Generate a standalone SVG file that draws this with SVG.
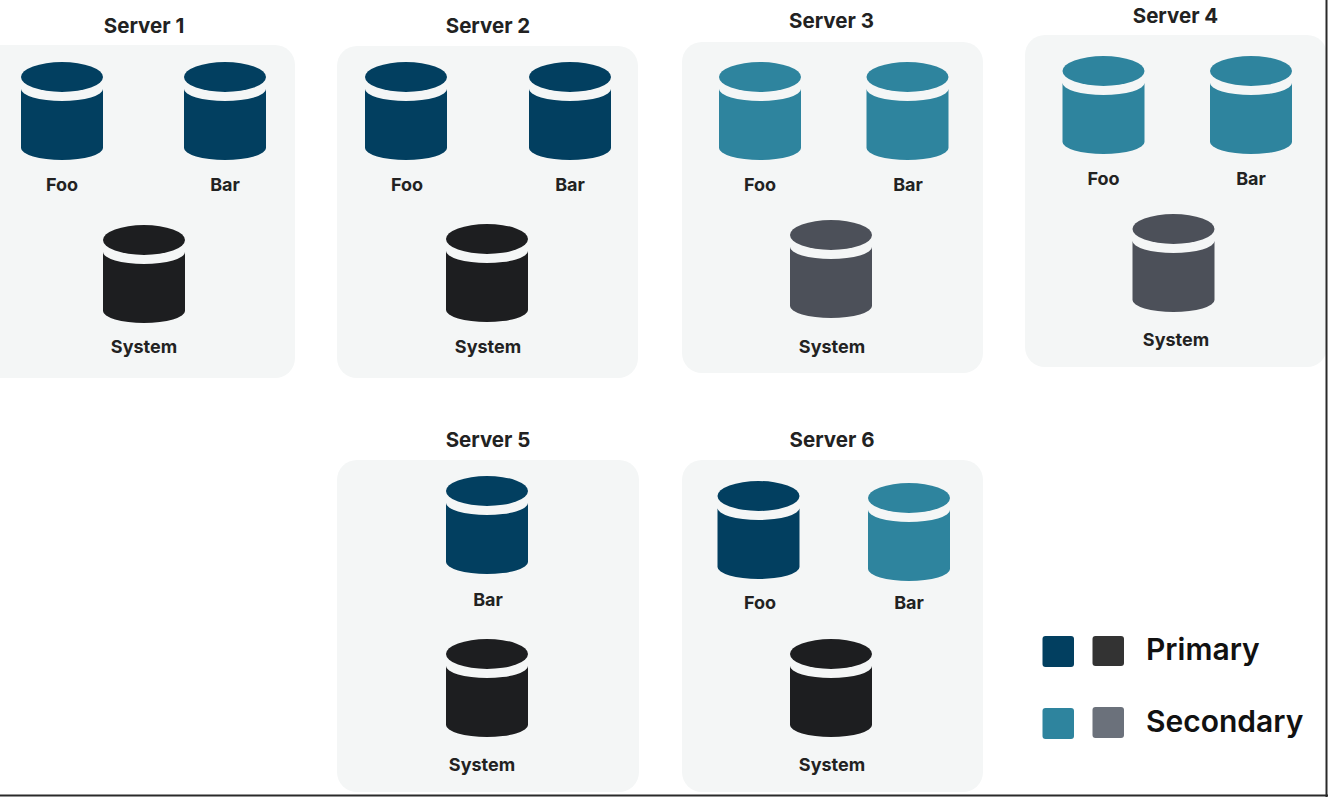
<svg xmlns="http://www.w3.org/2000/svg" xmlns:xlink="http://www.w3.org/1999/xlink" width="1328" height="797" viewBox="0 0 1328 797">
<style>
.box{fill:#f4f6f6}
.title{font-family:Inter,"Liberation Sans",sans-serif;font-weight:700;font-size:20.5px;fill:#222;text-anchor:middle}
.lbl{font-family:Inter,"Liberation Sans",sans-serif;font-weight:700;font-size:18px;fill:#222;text-anchor:middle}
.leg{font-family:Inter,"Liberation Sans",sans-serif;font-weight:600;font-size:30px;fill:#111}
.p{fill:#023f60}
.s{fill:#2e849e}
.ps{fill:#1d1e20}
.ss{fill:#4c5059}
</style>
<defs>
<g id="cyl">
<ellipse cx="0" cy="15" rx="41" ry="15"/>
<path d="M-41,27 A41,12 0 0 0 41,27 V86 A41,12 0 0 1 -41,86 Z"/>
</g>
</defs>
<rect width="1328" height="797" fill="#ffffff"/>

<g id="server1">
<text class="title" x="144" y="33">Server 1</text>
<rect class="box" x="-20" y="45" width="315" height="333" rx="20"/>
<use href="#cyl" xlink:href="#cyl" class="p" x="62" y="62"/>
<text class="lbl" x="62" y="191">Foo</text>
<use href="#cyl" xlink:href="#cyl" class="p" x="225" y="62"/>
<text class="lbl" x="225" y="191">Bar</text>
<use href="#cyl" xlink:href="#cyl" class="ps" x="144" y="225"/>
<text class="lbl" x="144" y="353">System</text>
</g>

<g id="server2">
<text class="title" x="488" y="33">Server 2</text>
<rect class="box" x="337" y="46" width="301" height="332" rx="20"/>
<use href="#cyl" xlink:href="#cyl" class="p" x="406" y="62"/>
<text class="lbl" x="407" y="191">Foo</text>
<use href="#cyl" xlink:href="#cyl" class="p" x="570" y="62"/>
<text class="lbl" x="570" y="191">Bar</text>
<use href="#cyl" xlink:href="#cyl" class="ps" x="487" y="224"/>
<text class="lbl" x="488" y="353">System</text>
</g>

<g id="server3">
<text class="title" x="831.5" y="28">Server 3</text>
<rect class="box" x="682" y="42" width="301" height="331" rx="20"/>
<use href="#cyl" xlink:href="#cyl" class="s" x="760" y="62"/>
<text class="lbl" x="760" y="191">Foo</text>
<use href="#cyl" xlink:href="#cyl" class="s" x="907.5" y="62"/>
<text class="lbl" x="908" y="191">Bar</text>
<use href="#cyl" xlink:href="#cyl" class="ss" x="831" y="220"/>
<text class="lbl" x="832" y="353">System</text>
</g>

<g id="server4">
<text class="title" x="1175.5" y="23">Server 4</text>
<rect class="box" x="1025" y="35" width="302" height="332" rx="20"/>
<use href="#cyl" xlink:href="#cyl" class="s" x="1103.5" y="56"/>
<text class="lbl" x="1103.5" y="185">Foo</text>
<use href="#cyl" xlink:href="#cyl" class="s" x="1251" y="56"/>
<text class="lbl" x="1251" y="185">Bar</text>
<use href="#cyl" xlink:href="#cyl" class="ss" x="1173.5" y="214"/>
<text class="lbl" x="1176" y="346">System</text>
</g>

<g id="server5">
<text class="title" x="488" y="447">Server 5</text>
<rect class="box" x="337" y="460" width="302" height="332" rx="20"/>
<use href="#cyl" xlink:href="#cyl" class="p" x="487" y="476"/>
<text class="lbl" x="488" y="606">Bar</text>
<use href="#cyl" xlink:href="#cyl" class="ps" x="487" y="639"/>
<text class="lbl" x="482" y="771">System</text>
</g>

<g id="server6">
<text class="title" x="832" y="447">Server 6</text>
<rect class="box" x="682" y="460" width="301" height="332" rx="20"/>
<use href="#cyl" xlink:href="#cyl" class="p" x="758.5" y="481"/>
<text class="lbl" x="760" y="609">Foo</text>
<use href="#cyl" xlink:href="#cyl" class="s" x="909" y="483"/>
<text class="lbl" x="909" y="609">Bar</text>
<use href="#cyl" xlink:href="#cyl" class="ps" x="831" y="639"/>
<text class="lbl" x="832" y="771">System</text>
</g>

<g id="legend">
<rect x="1042.5" y="636" width="31.5" height="31" rx="3" fill="#023f60"/>
<rect x="1092.5" y="636" width="31.5" height="30" rx="3" fill="#333333"/>
<text class="leg" x="1146" y="660">Primary</text>
<rect x="1042.5" y="708" width="31.5" height="31" rx="3" fill="#2e849e"/>
<rect x="1092.5" y="707" width="31.5" height="31" rx="3" fill="#6b717b"/>
<text class="leg" x="1146" y="732">Secondary</text>
</g>

<g id="connectors"></g>

<g id="frame">
<line x1="1326.5" y1="0" x2="1326.5" y2="797" stroke="#2a2a2a" stroke-width="2"/>
<line x1="0" y1="795.5" x2="1328" y2="795.5" stroke="#2a2a2a" stroke-width="2"/>
</g>
</svg>
